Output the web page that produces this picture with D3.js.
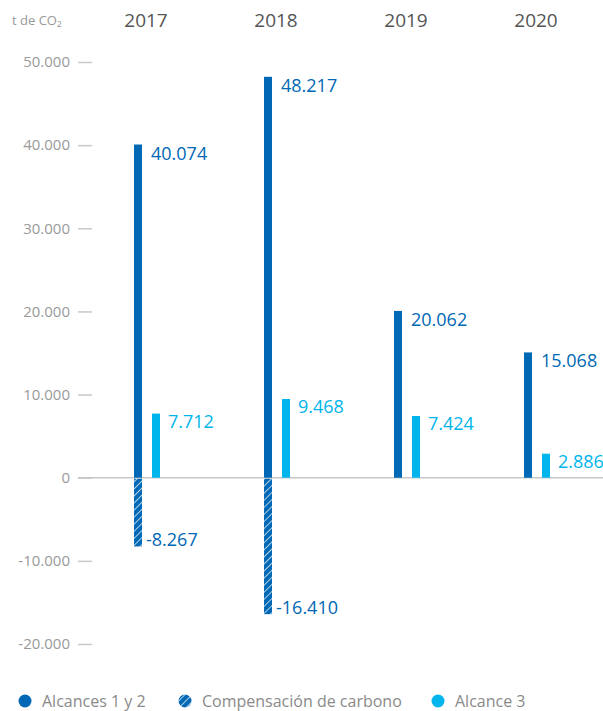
<!DOCTYPE html>
<html>
<head>
<meta charset="utf-8">
<script src="https://cdn.jsdelivr.net/npm/d3@7"></script>
<style>
  body { margin: 0; background: #fff; }
  svg { font-family: "Open Sans", sans-serif; }
</style>
</head>
<body>
<svg id="svg" width="603" height="711"></svg>
<script>
// datos del grafico
const years = ["2017", "2018", "2019", "2020"];
const alcances12 = [40074, 48217, 20062, 15068];
const compensacion = [-8267, -16410, null, null];
const alcance3 = [7712, 9468, 7424, 2886];
const yTicks = [50000, 40000, 30000, 20000, 10000, 0, -10000, -20000];
const legendItems = ["Alcances 1 y 2", "Compensación de carbono", "Alcance 3"];

const dark = "#0068b4", light = "#00b5ec", grey = "#9a9a9a";
const fmt = v => d3.format(",")(v).replace(/,/g, ".").replace("−", "-");

const svg = d3.select("#svg");

const y = d3.scaleLinear().domain([-20000, 50000]).range([644, 62]);
const x = d3.scaleBand().domain(years).range([82, 602]);
const barW = 8, gap = 10;

// patron rayado
const pat = svg.append("defs").append("pattern")
  .attr("id", "hatch").attr("patternUnits", "userSpaceOnUse")
  .attr("width", 5).attr("height", 5)
  .attr("patternTransform", "rotate(45)");
pat.append("rect").attr("width", 5).attr("height", 5).attr("fill", dark);
pat.append("line").attr("x1", 0).attr("y1", 0).attr("x2", 0).attr("y2", 5)
  .attr("stroke", "#fff").attr("stroke-width", 1.4);

// eje y
const yAxis = svg.append("g").attr("transform", "translate(92,0)")
  .call(d3.axisLeft(y).tickValues(yTicks).tickSize(14).tickPadding(8).tickFormat(fmt));
yAxis.select(".domain").remove();
yAxis.selectAll(".tick line").attr("stroke", "#c8c8c8").attr("stroke-width", 1.5);
yAxis.selectAll(".tick text").attr("fill", grey).style("font-size", "15px")
  .attr("font-family", "Open Sans, sans-serif");

// linea cero
svg.append("line").attr("x1", 78).attr("x2", 603)
  .attr("y1", y(0)).attr("y2", y(0))
  .attr("stroke", "#c8c8c8").attr("stroke-width", 1.5);

svg.append("text").attr("x", 12).attr("y", 25).attr("fill", grey)
  .style("font-size", "13px").text("t de CO₂");

// años
svg.selectAll(".year").data(years).enter().append("text")
  .attr("x", d => x(d) + x.bandwidth() / 2 - 1)
  .attr("y", 27).attr("text-anchor", "middle")
  .attr("fill", "#555").style("font-size", "19px").text(d => d);

const cx = i => x(years[i]) + x.bandwidth() / 2;
const darkX = i => cx(i) - (barW + gap) / 2 - barW / 2;
const lightX = i => cx(i) + (barW + gap) / 2 - barW / 2;

// alcances 1 y 2
svg.selectAll(".a12").data(alcances12).enter().append("rect")
  .attr("x", (d, i) => darkX(i)).attr("width", barW)
  .attr("y", d => y(d)).attr("height", d => y(0) - y(d)).attr("fill", dark);
svg.selectAll(".a12t").data(alcances12).enter().append("text")
  .attr("x", (d, i) => darkX(i) + barW + 9).attr("y", d => y(d) + 15)
  .attr("fill", dark).style("font-size", "18px").text(fmt);

// compensacion
const comp = compensacion.map((v, i) => ({ v, i })).filter(d => d.v !== null);
svg.selectAll(".cmp").data(comp).enter().append("rect")
  .attr("x", d => darkX(d.i)).attr("width", barW)
  .attr("y", y(0) + 1).attr("height", d => y(d.v) - y(0) - 1).attr("fill", "url(#hatch)");
svg.selectAll(".cmpt").data(comp).enter().append("text")
  .attr("x", d => darkX(d.i) + barW + 4).attr("y", d => y(d.v) - 0)
  .attr("fill", dark).style("font-size", "18px").text(d => fmt(d.v));

// alcance 3
svg.selectAll(".a3").data(alcance3).enter().append("rect")
  .attr("x", (d, i) => lightX(i)).attr("width", barW)
  .attr("y", d => y(d)).attr("height", d => y(0) - y(d)).attr("fill", light);
svg.selectAll(".a3t").data(alcance3).enter().append("text")
  .attr("x", (d, i) => lightX(i) + barW + 8).attr("y", d => y(d) + 14)
  .attr("fill", light).style("font-size", "18px").text(fmt);

// leyenda
const legX = [25, 185, 438];
const fills = [dark, "url(#hatch)", light];
const leg = svg.selectAll(".leg").data(legendItems).enter().append("g")
  .attr("transform", (d, i) => `translate(${legX[i]},701)`);
leg.append("circle").attr("r", 6.5).attr("fill", (d, i) => fills[i]);
leg.append("text").attr("x", 17).attr("y", 5.5).attr("fill", "#8a8a8a")
  .style("font-size", "16px").text(d => d);
</script>
</body>
</html>
